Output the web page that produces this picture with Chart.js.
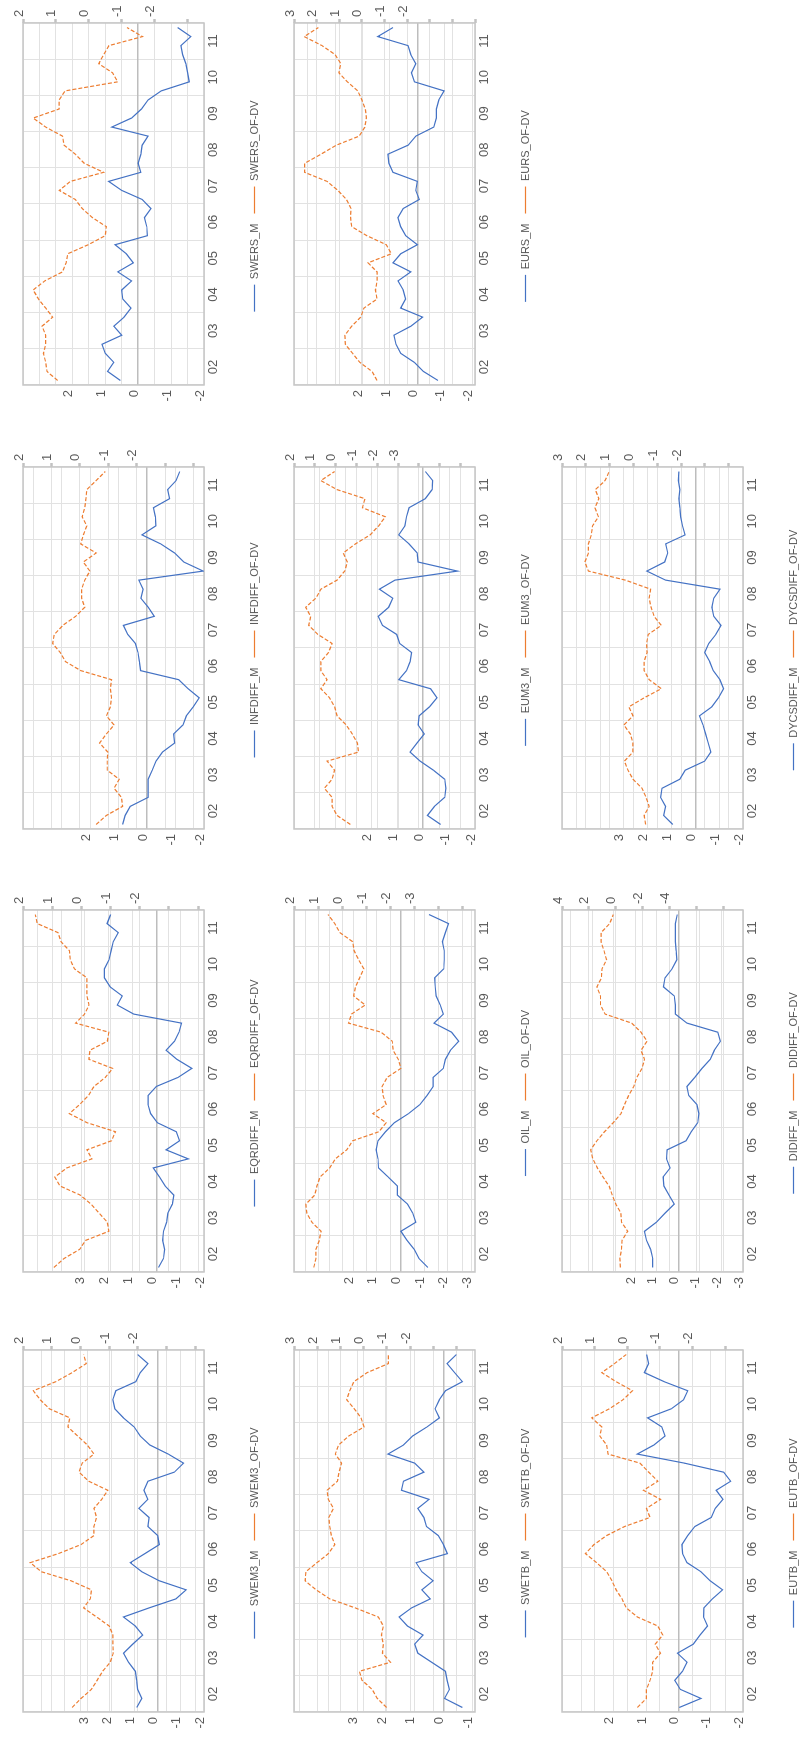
<!DOCTYPE html>
<html>
<head>
<meta charset="utf-8">
<title>M vs OF-DV panels</title>
<script src="https://cdn.jsdelivr.net/npm/chart.js@4.4.1/dist/chart.umd.min.js"></script>
<style>
  html, body { margin: 0; padding: 0; background: #fff; overflow: hidden; }
  #page { position: relative; width: 801px; height: 1739px; }
  /* each chart is drawn landscape, then turned a quarter left like the scanned page */
  .panel { position: absolute; width: 430px; height: 270px; transform-origin: 0 0; transform: rotate(-90deg); }
</style>
</head>
<body>
<div id="page"></div>

<script>
// year tick labels, data is quarterly
var years = ['02', '03', '04', '05', '06', '07', '08', '09', '10', '11'];
var quarters = years.flatMap(function (y) {
  return ['Q1', 'Q2', 'Q3', 'Q4'].map(function (q) { return '20' + y + ' ' + q; });
});

// series (one value per quarter, 2002 Q1 .. 2011 Q4)
var swersM = [0.54, 0.93, 0.74, 1.0, 1.1, 0.5, 0.74, 0.43, 0.22, 0.47, 0.5, 0.2, 0.62, 0.15, 0.36, 0.7, -0.28, -0.26, -0.19, -0.39, -0.12, 0.5, 0.9, -0.08, 0, -0.08, -0.12, -0.3, 0.8, 0.2, -0.1, -0.3, -0.7, -1.55, -1.5, -1.45, -1.35, -1.3, -1.6, -1.2];
var swersOF = [0.95, 1.27, 1.31, 1.38, 1.31, 1.31, 1.42, 1.1, 1.31, 1.53, 1.69, 1.34, 0.8, 0.69, 0.64, 0.02, -0.5, -0.53, -0.11, 0.2, 0.41, 0.9, 0.56, -0.45, 0.14, 0.41, 0.75, 0.8, 1.31, 1.69, 0.9, 0.9, 0.72, -0.88, -0.72, -0.3, -0.45, -0.61, -1.63, -1.16];

var eursM = [-0.75, -0.22, 0.11, 0.61, 0.78, 0.86, 0.24, -0.19, 0.61, 0.43, 0.52, 0.71, 0.24, 0.89, 0.61, 0, 0.43, 0.61, 0.71, 0.52, -0.07, 0.06, 0, 0.89, 1.04, 1.08, 0.34, 0.06, -0.6, -0.69, -0.69, -0.78, -0.97, 0.11, 0.22, 0.06, 0.24, 0.34, 1.45, 0.89];
var eursOF = [-0.67, -0.45, 0.09, 0.41, 0.73, 0.75, 0.45, 0.05, -0.09, -0.67, -0.6, -0.67, -0.67, -0.27, -1.3, -1.08, -0.22, 0.45, 0.5, 0.48, 0.68, 1.06, 1.54, 2.53, 2.53, 1.81, 1.13, 0.12, -0.13, -0.2, -0.15, 0, 0.18, 0.64, 1.02, 0.93, 1.18, 1.76, 2.55, 1.92];

var infdiffM = [0.86, 0.77, 0.59, -0.04, -0.04, -0.04, -0.18, -0.31, -0.54, -0.97, -0.93, -1.26, -1.38, -1.62, -1.83, -1.44, -1.11, 0.23, 0.27, 0.32, 0.41, 0.68, 0.83, -0.25, -0.04, 0.22, 0.14, 0.29, -1.97, -1.29, -0.97, -0.48, 0.18, -0.31, -0.29, -0.22, -0.79, -0.72, -1.02, -1.15];
var infdiffOF = [-0.57, -0.93, -1.5, -1.46, -1.2, -1.38, -0.96, -0.96, -0.98, -0.69, -0.93, -1.2, -0.93, -1.07, -1.11, -1.07, -1.11, -0.03, 0.51, 0.69, 0.96, 0.9, 0.6, 0.15, -0.17, -0.06, -0.06, -0.17, -0.35, -0.12, -0.57, -0.03, -0.12, -0.24, -0.08, -0.17, -0.21, -0.24, -0.57, -0.89];

var eum3M = [-0.67, -0.16, -0.43, -0.83, -0.87, -0.83, -0.39, 0.12, 0.51, 0.24, -0.04, 0.2, 0.16, -0.24, -0.53, -0.28, 0.95, 0.65, 0.51, 0.45, 0.91, 1.03, 1.58, 1.74, 1.34, 1.18, 1.7, 1.1, -1.32, 0.2, 0.24, 0.55, 0.95, 0.71, 0.65, 0.55, -0.08, -0.34, -0.36, -0.08];
var eum3OF = [-0.71, -0.07, 0.17, 0.17, 0.54, 0.17, 0.05, 0.41, -1.1, -1.05, -0.8, -0.51, -0.07, 0.05, 0.29, 0.71, 0.41, 0.71, 0.71, 0.34, 0.17, 0.85, 1.29, 1.2, 1.44, 0.95, 0.71, -0.07, -0.44, -0.56, -0.37, -0.95, -1.66, -2.07, -2.39, -1.29, -1.41, -0.07, 0.71, 0.05];

var dycsdiffM = [0.95, 1.33, 1.25, 1.46, 1.4, 0.65, 0.43, -0.39, -0.65, -0.54, -0.43, -0.32, -0.17, -0.69, -0.97, -1.18, -1.03, -0.75, -0.6, -0.39, -0.56, -0.86, -1.08, -0.77, -0.69, -0.77, -1.03, 1.25, 2.04, 1.29, 1.16, 1.25, 0.43, 0.54, 0.62, 0.65, 0.69, 0.65, 0.71, 0.69];
var dycsdiffOF = [-0.51, -0.45, -0.66, -0.53, -0.36, 0.02, 0.23, 0.38, 0.02, 0.02, 0.13, 0.4, 0.02, 0.19, -0.45, -1.17, -0.66, -0.45, -0.45, -0.57, -0.55, -0.62, -1.17, -0.87, -0.74, -0.66, -0.72, 0.34, 1.89, 2.04, 1.89, 1.89, 1.77, 1.72, 1.47, 1.62, 1.45, 1.6, 1.19, 1.02];

var eqrdiffM = [-0.09, -0.3, -0.35, -0.26, -0.3, -0.43, -0.48, -0.67, -0.73, -0.37, -0.13, 0.13, -1.34, -0.41, -0.97, -0.84, -0.04, 0.24, 0.35, 0.35, 0, -0.91, -1.49, -0.86, -0.41, -0.76, -0.95, -1.06, 0.95, 1.64, 1.43, 1.94, 2.18, 2.18, 1.99, 1.9, 1.81, 1.6, 2.07, 1.92];
var eqrdiffOF = [0.94, 0.59, 0.06, -0.15, -0.94, -0.89, -0.61, -0.33, 0.04, 0.73, 0.91, 0.5, -0.36, -0.19, -1.03, -1.17, -0.19, 0.41, 0.06, -0.24, -0.43, -0.82, -1.07, -0.26, -0.29, -0.89, -0.94, 0.2, -0.11, -0.26, -0.19, -0.19, -0.19, 0.24, 0.38, 0.41, 0.7, 0.8, 1.51, 1.58];

var oilM = [-1.16, -0.78, -0.58, -0.28, -0.02, -0.65, -0.52, -0.3, 0.13, 0.13, 0.52, 0.93, 0.95, 1.03, 0.95, 0.63, 0.26, -0.34, -0.82, -1.12, -1.38, -1.38, -1.81, -1.9, -2.11, -2.46, -2.16, -1.42, -1.81, -1.68, -1.51, -1.47, -1.44, -1.83, -1.85, -1.85, -1.77, -1.9, -2.03, -1.21];
var oilOF = [1.18, 1.09, 1.09, 0.95, 0.88, 1.26, 1.47, 1.51, 1.14, 1.05, 0.92, 0.52, 0.29, -0.19, -0.43, -1.52, -1.82, -1.27, -1.82, -1.69, -1.65, -1.86, -2.43, -2.32, -2.11, -2.07, -1.61, -0.26, -0.38, -0.95, -0.47, -0.55, -0.72, -0.89, -0.68, -0.49, -0.43, 0.1, 0.31, 0.59];

var didiffM = [1.19, 1.19, 1.29, 1.48, 1.57, 1.02, 0.62, 0.19, 0.43, 0.67, 0.71, 0.38, 0.55, 0.52, -0.36, -0.6, -0.9, -0.95, -0.86, -0.48, -0.4, -0.76, -1.1, -1.48, -1.67, -1.95, -1.83, -0.4, 0.14, 0.14, 0.19, 0.69, 0.62, 0.29, 0.07, 0.1, 0.14, 0.14, 0.14, 0.05];
var didiffOF = [-0.34, -0.3, -0.42, -0.46, -0.88, -0.42, -0.38, 0, 0.27, 0.5, 0.95, 1.37, 1.71, 1.87, 1.41, 0.84, 0.19, -0.38, -0.65, -0.95, -1.33, -1.56, -1.94, -2.13, -1.87, -2.32, -1.87, -1.18, 0.8, 1.14, 1.14, 1.41, 1.07, 1.03, 0.69, 0.88, 1.1, 1.1, 0.46, 0.19];

var swem3M = [0.9, 0.68, 0.86, 0.9, 0.96, 1.25, 1.47, 1.07, 0.64, 0.96, 1.47, 0.37, -0.79, -1.23, -0.07, 0.68, 1.18, 0.55, -0.07, 0, 0.42, 0.37, 0.81, 0.42, 0.59, 0.42, -0.72, -1.12, -0.46, 0.33, 0.75, 1.01, 1.47, 1.84, 1.93, 1.8, 0.94, 0.75, 0.42, 0.86];
var swem3OF = [0.29, -0.02, -0.38, -0.58, -0.77, -1.04, -1.14, -1.13, -1.13, -1.0, -0.56, -0.11, -0.34, -0.38, 0.33, 1.36, 1.75, 0.77, -0.02, -0.47, -0.47, -0.56, -0.47, -0.74, -0.95, -0.29, 0.05, -0.06, -0.47, -0.24, 0.1, 0.44, 0.37, 1.08, 1.4, 1.64, 0.86, 0.29, -0.2, -0.11];

var swetbM = [-0.66, -0.04, -0.21, -0.13, -0.07, 0.41, 0.89, 1.0, 0.71, 1.25, 1.54, 1.11, 0.46, 0.75, 0.36, 0.75, 0.95, -0.14, 0, 0.18, 0.59, 0.68, 0.89, 0.5, 1.46, 1.39, 0.68, 1.0, 1.93, 1.39, 1.07, 0.57, 0.14, 0.29, 0.14, -0.07, -0.66, -0.39, -0.13, -0.45];
var swetbOF = [-0.99, -0.59, -0.37, 0.07, 0.18, -1.16, -0.81, -0.85, -0.77, -0.85, -0.63, 0.36, 1.46, 2.05, 2.52, 2.49, 2.01, 1.52, 1.24, 1.39, 1.46, 1.5, 1.3, 1.52, 1.57, 1.13, 1.06, 0.95, 1.22, 1.08, 0.64, -0.02, 0.11, 0.4, 0.73, 0.6, 0.42, -0.15, -1.07, -1.07];

var eutbM = [-0.03, -0.7, -0.06, 0.11, -0.13, -0.27, 0.03, -0.46, -0.67, -0.9, -0.78, -0.79, -1.05, -1.37, -0.98, -0.7, -0.27, -0.13, -0.11, -0.29, -0.51, -1.02, -1.14, -1.38, -1.17, -1.62, -1.4, -0.19, 1.27, 0.76, 0.41, 0.51, 0.95, 0.22, -0.16, -0.29, 0.44, 1.05, 0.92, 0.98];
var eutbOF = [-0.31, -0.59, -0.59, -0.7, -0.78, -0.78, -1.02, -0.86, -1.09, -0.94, -0.31, 0.03, 0.16, 0.34, 0.47, 0.63, 0.94, 1.28, 1.02, 0.63, 0.08, -0.7, -0.59, -1.02, -0.5, -0.94, -0.66, -0.39, 0.59, 0.63, 0.84, 0.78, 1.09, 0.55, 0.13, -0.16, 0.34, 0.78, 0.39, 0.03];

// which panel goes where, and the axis ranges of each (primary = _M, secondary = _OF-DV)
var panels = [
  { row: 0, col: 0, name: 'SWERS',    m: swersM,    of: swersOF,    y: [-2, 3.5],    yShow: [-2, 2], y2: [-3.5, 2],   y2Show: [-2, 2], step2: 1 },
  { row: 0, col: 1, name: 'EURS',     m: eursM,     of: eursOF,     y: [-2.1, 4.5],  yShow: [-2, 2], y2: [-5, 3],     y2Show: [-2, 3], step2: 1 },
  { row: 1, col: 0, name: 'INFDIFF',  m: infdiffM,  of: infdiffOF,  y: [-2, 4.36],   yShow: [-2, 2], y2: [-4.36, 2],  y2Show: [-2, 2], step2: 1 },
  { row: 1, col: 1, name: 'EUM3',     m: eum3M,     of: eum3OF,     y: [-2, 5],      yShow: [-2, 2], y2: [-6.7, 2],   y2Show: [-3, 2], step2: 1 },
  { row: 1, col: 2, name: 'DYCSDIFF', m: dycsdiffM, of: dycsdiffOF, y: [-2, 5.6],    yShow: [-2, 3], y2: [-4.6, 3],   y2Show: [-2, 3], step2: 1 },
  { row: 2, col: 0, name: 'EQRDIFF',  m: eqrdiffM,  of: eqrdiffOF,  y: [-2, 5.6],    yShow: [-2, 3], y2: [-4.2, 2],   y2Show: [-2, 2], step2: 1 },
  { row: 2, col: 1, name: 'OIL',      m: oilM,      of: oilOF,      y: [-3.15, 4.5], yShow: [-3, 2], y2: [-5.5, 2],   y2Show: [-3, 2], step2: 1 },
  { row: 2, col: 2, name: 'DIDIFF',   m: didiffM,   of: didiffOF,   y: [-3, 5.4],    yShow: [-3, 2], y2: [-9.45, 4],  y2Show: [-4, 4], step2: 2 },
  { row: 3, col: 0, name: 'SWEM3',    m: swem3M,    of: swem3OF,    y: [-2, 5.8],    yShow: [-2, 3], y2: [-4.3, 2],   y2Show: [-2, 2], step2: 1 },
  { row: 3, col: 1, name: 'SWETB',    m: swetbM,    of: swetbOF,    y: [-1.1, 5.2],  yShow: [-1, 3], y2: [-4.8, 3],   y2Show: [-2, 3], step2: 1 },
  { row: 3, col: 2, name: 'EUTB',     m: eutbM,     of: eutbOF,     y: [-2, 3.6],    yShow: [-2, 2], y2: [-3.55, 2],  y2Show: [-2, 2], step2: 1 }
];

var colLeft = [0, 271, 539];
var rowTop = [0, 444, 887, 1327];
var W = 430, H = 270;

var BLUE = '#4472C4', ORANGE = '#ED7D31', GRID = '#e2e2e2', DARK = '#bdbdbd';

Chart.defaults.font.family = '"Liberation Sans", Arial, sans-serif';
Chart.defaults.color = '#595959';

// plot area border like excel
var frame = {
  id: 'frame',
  beforeDatasetsDraw: function (chart) {
    var a = chart.chartArea, c = chart.ctx;
    c.save();
    c.strokeStyle = '#c6c6c6';
    c.lineWidth = 1.5;
    c.strokeRect(a.left, a.top, a.right - a.left, a.bottom - a.top);
    c.restore();
  }
};

function stepTicks(min, max, step) {
  return function (scale) {
    var t = [];
    for (var v = Math.ceil(min / step - 1e-9) * step; v <= max + 1e-9; v += step) {
      t.push({ value: Math.round(v * 100) / 100 });
    }
    scale.ticks = t;
  };
}

function showOnly(range) {
  return function (v) { return (v >= range[0] && v <= range[1]) ? String(v) : ''; };
}

var page = document.getElementById('page');

panels.forEach(function (p) {
  var box = document.createElement('div');
  box.className = 'panel';
  box.style.left = colLeft[p.col] + 'px';
  box.style.top = (rowTop[p.row] + W) + 'px';
  var cv = document.createElement('canvas');
  cv.width = W;
  cv.height = H;
  box.appendChild(cv);
  page.appendChild(box);

  new Chart(cv.getContext('2d'), {
    type: 'line',
    data: {
      labels: quarters,
      datasets: [
        {
          label: p.name + '_M', data: p.m, xAxisID: 'x', yAxisID: 'y',
          borderColor: BLUE, backgroundColor: BLUE, borderWidth: 1.2,
          pointRadius: 0, tension: 0
        },
        {
          label: p.name + '_OF-DV', data: p.of, xAxisID: 'x', yAxisID: 'y2',
          borderColor: ORANGE, backgroundColor: ORANGE, borderWidth: 1.2, borderDash: [4, 2],
          pointRadius: 0, tension: 0
        }
      ]
    },
    options: {
      responsive: false,
      animation: false,
      events: [],
      layout: { padding: { top: 23, left: 18, right: 0, bottom: 0 } },
      scales: {
        x: { type: 'category', labels: quarters, offset: true, display: false },
        xl: {
          type: 'category', position: 'bottom', labels: years, offset: true,
          grid: { offset: true, color: GRID, drawTicks: false },
          border: { display: false },
          ticks: { font: { size: 13 }, padding: 2, autoSkip: false, maxRotation: 0 },
          afterFit: function (s) { s.height = 35; }
        },
        y: {
          type: 'linear', position: 'left', min: p.y[0], max: p.y[1],
          afterBuildTicks: stepTicks(p.y[0], p.y[1], 1),
          ticks: { callback: showOnly(p.yShow), font: { size: 13 }, padding: 5, labelOffset: -4 },
          grid: {
            drawTicks: false,
            color: function (c) { return c.tick && c.tick.value === 0 ? DARK : GRID; },
            lineWidth: function (c) { return c.tick && c.tick.value === 0 ? 1.6 : 1; }
          },
          border: { display: false },
          afterFit: function (s) { s.width = 27; }
        },
        y2: {
          type: 'linear', position: 'right', min: p.y2[0], max: p.y2[1],
          afterBuildTicks: stepTicks(p.y2[0], p.y2[1], p.step2),
          ticks: { callback: showOnly(p.y2Show), font: { size: 13 }, padding: 2, labelOffset: -4 },
          grid: { color: GRID, drawTicks: true, tickLength: 4, tickColor: '#c2c2c2', tickWidth: 2.5 },
          border: { display: false },
          afterFit: function (s) { s.width = 23; }
        }
      },
      plugins: {
        legend: {
          position: 'bottom',
          labels: {
            usePointStyle: true, pointStyle: 'line', pointStyleWidth: 27,
            font: { size: 11 }, color: '#595959', padding: 10
          }
        },
        tooltip: { enabled: false }
      }
    },
    plugins: [frame]
  });
});
</script>
</body>
</html>
